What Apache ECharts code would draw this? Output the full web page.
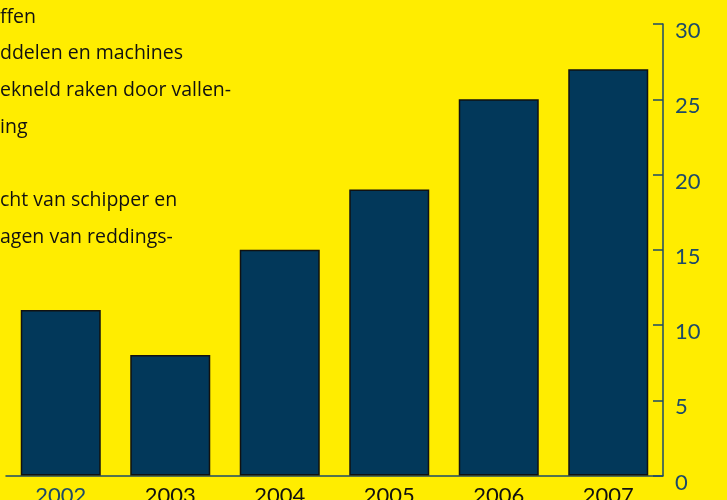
<!DOCTYPE html>
<html>
<head>
<meta charset="utf-8">
<script src="https://cdn.jsdelivr.net/npm/echarts@6/dist/echarts.min.js"></script>
<style>
html,body{margin:0;padding:0;background:#ffed00;}
#c{width:727px;height:500px;}
</style>
</head>
<body>
<div id="c"></div>
<script>
var categories = ['2002','2003','2004','2005','2006','2007'];
var values = [11, 8, 15, 19, 25, 27];
var yTicks = [0, 5, 10, 15, 20, 25, 30];
var textLines = ['ffen', 'ddelen en machines', 'ekneld raken door vallen-', 'ing', '', 'cht van schipper en', 'agen van reddings-'];

var chart = echarts.init(document.getElementById('c'));
var navy = '#1d4a68';
var graphics = [];
var lineY = [23, 59, 96, 133, 169, 206, 243];
textLines.forEach(function (t, i) {
  if (!t) return;
  graphics.push({
    type: 'text', left: 0, top: lineY[i] - 16,
    style: { text: t, fill: '#111', font: '500 19.5px "Open Sans"' }
  });
});
chart.setOption({
  backgroundColor: '#ffed00',
  animation: false,
  grid: { left: 6, right: 64, top: 24, bottom: 24.5, containLabel: false, outerBoundsMode: 'none' },
  graphic: graphics,
  xAxis: {
    type: 'category',
    data: categories.map(function (c, i) {
      return { value: c, textStyle: { color: i === 0 ? navy : '#111' } };
    }),
    axisLine: { lineStyle: { color: navy, width: 1.5 } },
    axisTick: { show: false },
    axisLabel: { fontFamily: 'Lato', fontSize: 22, margin: 9 }
  },
  yAxis: {
    type: 'value', position: 'right', min: yTicks[0], max: yTicks[yTicks.length - 1], interval: 5,
    splitLine: { show: false },
    axisLine: { show: true, lineStyle: { color: navy, width: 1.5 } },
    axisTick: { show: true, inside: true, length: 10, lineStyle: { color: navy, width: 1.5 } },
    axisLabel: {
      margin: 12,
      formatter: '{a|{value}}',
      rich: { a: { color: navy, fontFamily: 'Lato', fontSize: 22, padding: [14, 0, 0, 0] } }
    }
  },
  series: [{
    type: 'bar', data: values, barWidth: 80,
    itemStyle: { color: '#02385a', borderColor: '#111', borderWidth: 1.5 }
  }]
});
</script>
</body>
</html>
